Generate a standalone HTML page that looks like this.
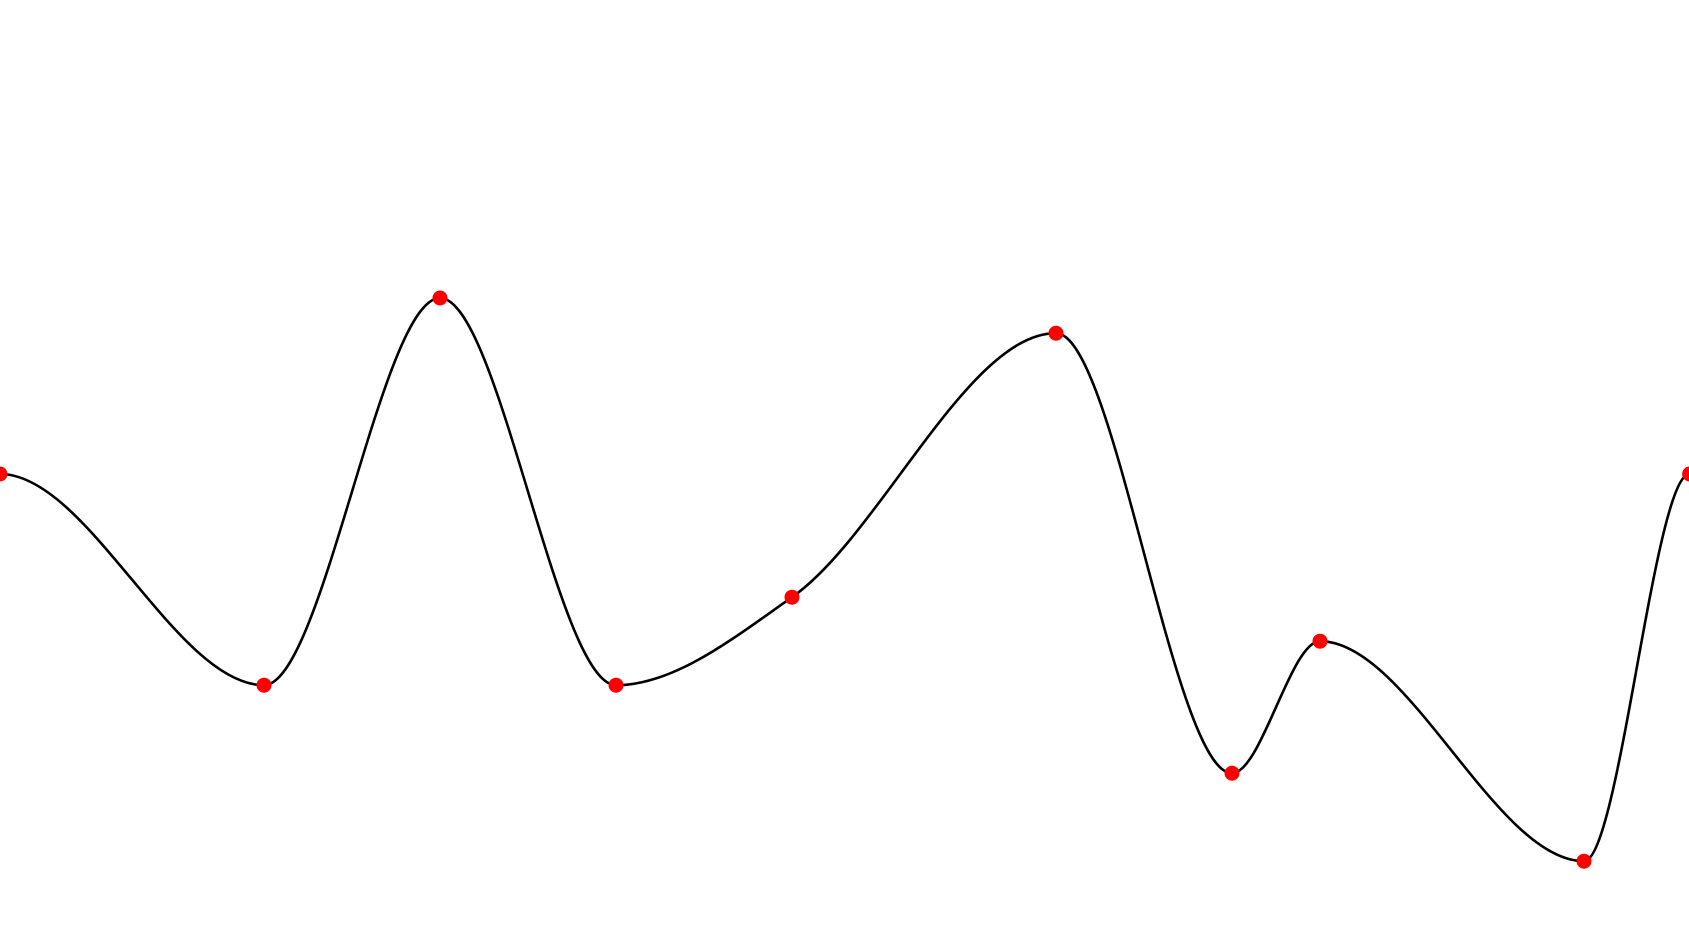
<!DOCTYPE html>
<html><head><meta charset="utf-8"><style>html,body{margin:0;padding:0;background:#fff;}svg{display:block}</style></head>
<body>
<svg id="chart" width="1689" height="946" viewBox="0 0 1689 946"></svg>
<script>
const xValues = [0, 3, 5, 7, 9, 12, 14, 15, 18, 19.2];
const yValues = [0, -24, 20, -24, -14, 16, -34, -19, -44, 0];
const xScale = v => v * 88;
const yScale = v => 474 - 8.8 * v;
const svg = document.getElementById('chart');
const NS = 'http://www.w3.org/2000/svg';
const px = xValues.map(xScale), py = yValues.map(yScale);
const n = px.length;
function sign(x){return x<0?-1:1;}
const t = new Array(n).fill(0);
const s = [];
for (let i=0;i<n-1;i++) s.push((py[i+1]-py[i])/(px[i+1]-px[i]));
for (let i=1;i<n-1;i++){
  const h0=px[i]-px[i-1], h1=px[i+1]-px[i], s0=s[i-1], s1=s[i];
  const p=(s0*h1+s1*h0)/(h0+h1);
  t[i]=(sign(s0)+sign(s1))*Math.min(Math.abs(s0),Math.abs(s1),0.5*Math.abs(p))||0;
}
let d='M'+px[0]+','+py[0];
for (let i=0;i<n-1;i++){
  const dx=(px[i+1]-px[i])/3;
  d+=' C'+(px[i]+dx)+','+(py[i]+dx*t[i])+' '+(px[i+1]-dx)+','+(py[i+1]-dx*t[i+1])+' '+px[i+1]+','+py[i+1];
}
const path=document.createElementNS(NS,'path');
path.setAttribute('d',d);
path.setAttribute('fill','none');
path.setAttribute('stroke','#000');
path.setAttribute('stroke-width','2.6');


svg.appendChild(path);
for (let i=0;i<n;i++){
  const c=document.createElementNS(NS,'circle');
  c.setAttribute('cx',px[i]);c.setAttribute('cy',py[i]);c.setAttribute('r','7.5');
  c.setAttribute('fill','#ff0000');
  
  
  svg.appendChild(c);
}
</script>
</body></html>
